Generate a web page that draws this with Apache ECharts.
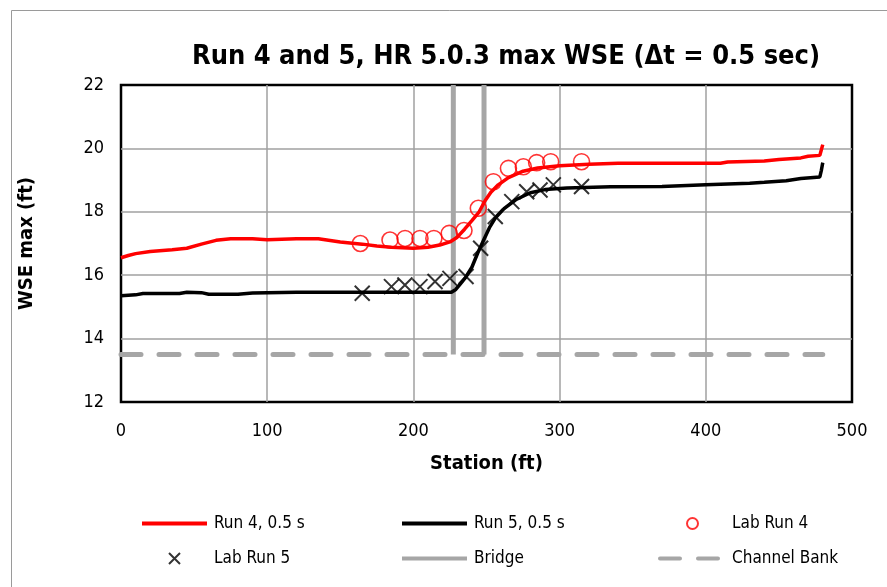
<!DOCTYPE html>
<html>
<head>
<meta charset="utf-8">
<script src="https://cdn.jsdelivr.net/npm/echarts@6/dist/echarts.min.js"></script>
<style>
  html, body { margin: 0; padding: 0; background: #fff; }
  #chart { width: 887px; height: 587px; }
</style>
</head>
<body>
<div id="chart"></div>
<script>
// Station (ft) and maximum water surface elevation (ft)
const run4Station = [0, 5, 10, 20, 35, 45, 55, 65, 75, 90, 100, 120, 135, 150, 165, 175, 185, 200, 210, 218, 225, 230, 235, 240, 245, 249, 253, 258, 265, 275, 285, 300, 320, 340, 380, 410, 415, 440, 450, 465, 470, 478, 479, 480];
const run4Wse = [16.55, 16.62, 16.68, 16.75, 16.80, 16.85, 16.98, 17.10, 17.15, 17.15, 17.12, 17.15, 17.15, 17.05, 16.98, 16.92, 16.88, 16.85, 16.88, 16.95, 17.05, 17.20, 17.45, 17.72, 18.00, 18.35, 18.62, 18.85, 19.08, 19.28, 19.38, 19.45, 19.50, 19.53, 19.53, 19.53, 19.57, 19.60, 19.65, 19.70, 19.75, 19.78, 19.95, 20.12];

const run5Station = [0, 10, 15, 40, 45, 55, 60, 80, 90, 120, 200, 226, 229, 232, 236, 240, 244, 248, 252, 256, 262, 270, 280, 290, 305, 335, 370, 400, 430, 440, 455, 465, 478, 479, 480];
const run5Wse = [15.35, 15.38, 15.42, 15.42, 15.46, 15.45, 15.40, 15.40, 15.44, 15.46, 15.46, 15.46, 15.55, 15.72, 15.95, 16.25, 16.70, 17.10, 17.50, 17.80, 18.10, 18.38, 18.60, 18.70, 18.75, 18.79, 18.80, 18.85, 18.90, 18.93, 18.98, 19.05, 19.10, 19.30, 19.55];

const labRun4Station = [163.7, 184, 194.3, 204.5, 214, 224.5, 234.6, 244.4, 254.7, 265, 275.2, 284.3, 293.9, 315];
const labRun4Wse = [17.00, 17.11, 17.16, 17.16, 17.16, 17.32, 17.41, 18.11, 18.95, 19.37, 19.42, 19.55, 19.58, 19.58];

const labRun5Station = [165, 185, 194.2, 204.5, 214.8, 225, 236, 246, 256, 267.3, 277.5, 286.6, 295.7, 315];
const labRun5Wse = [15.43, 15.64, 15.69, 15.64, 15.80, 15.90, 15.96, 16.85, 17.85, 18.32, 18.63, 18.69, 18.85, 18.80];

// Bridge faces and channel bank elevation
const bridgeStations = [227.3, 248.3];
const bridgeTop = 22;
const bridgeBottom = 13.5;
const bankStations = [0, 480];
const bankElevation = 13.5;

const xTicks = [0, 100, 200, 300, 400, 500];
const yTicks = [12, 14, 16, 18, 20, 22];

const pair = (xs, ys) => xs.map((x, i) => [x, ys[i]]);

const FONT = '"Liberation Sans Narrow", "DejaVu Sans Condensed", "Liberation Sans", sans-serif';
const GREY = '#a6a6a6';

const bridgeData = [];
bridgeStations.forEach((s, i) => {
  if (i > 0) bridgeData.push([null, null]);
  bridgeData.push([s, bridgeTop], [s, bridgeBottom]);
});

const chart = echarts.init(document.getElementById('chart'), null, { renderer: 'canvas' });

// legend entries for plain lines carry no marker
const lineEntry = name => ({ name, itemStyle: { opacity: 0 } });

const legendBase = {
  orient: 'vertical',
  itemWidth: 65,
  itemHeight: 11,
  itemGap: 18,
  lineStyle: { width: 4 },
  textStyle: { fontFamily: FONT, fontSize: 17, color: '#000', padding: [0, 0, 0, 2] },
  selectedMode: false
};

chart.setOption({
  animation: false,
  backgroundColor: '#fff',
  textStyle: { fontFamily: FONT },
  title: {
    text: 'Run 4 and 5, HR 5.0.3 max WSE (\u0394t = 0.5 sec)',
    left: 501,
    top: 38,
    textAlign: 'center',
    textStyle: { fontFamily: FONT, fontSize: 27, fontWeight: 'bold', color: '#000' }
  },
  graphic: [{
    type: 'rect',
    shape: { x: 11.5, y: 10.5, width: 900, height: 600 },
    style: { fill: 'none', stroke: '#9a9a9a', lineWidth: 1 },
    silent: true
  }],
  grid: {
    left: 121, right: 35, top: 85, bottom: 185,
    show: true, borderColor: '#000', borderWidth: 2.5, backgroundColor: 'transparent'
  },
  xAxis: {
    type: 'value', min: xTicks[0], max: xTicks[xTicks.length - 1], interval: 100,
    name: 'Station (ft)', nameLocation: 'middle', nameGap: 52,
    nameTextStyle: { fontFamily: FONT, fontSize: 20, fontWeight: 'bold', color: '#000' },
    axisLine: { show: false }, axisTick: { show: false },
    axisLabel: { fontFamily: FONT, fontSize: 18, color: '#000', margin: 20 },
    splitLine: { show: true, showMinLine: false, showMaxLine: false, lineStyle: { color: '#a0a0a0', width: 1.5 } }
  },
  yAxis: {
    type: 'value', min: yTicks[0], max: yTicks[yTicks.length - 1], interval: 2,
    name: 'WSE max (ft)', nameLocation: 'middle', nameGap: 84,
    nameTextStyle: { fontFamily: FONT, fontSize: 20, fontWeight: 'bold', color: '#000' },
    axisLine: { show: false }, axisTick: { show: false },
    axisLabel: { fontFamily: FONT, fontSize: 18, color: '#000', margin: 17 },
    splitLine: { show: true, showMinLine: false, showMaxLine: false, lineStyle: { color: '#a0a0a0', width: 1.5 } }
  },
  legend: [
    Object.assign({}, legendBase, { left: 135, top: 510, data: [lineEntry('Run 4, 0.5 s'), 'Lab Run 5'] }),
    Object.assign({}, legendBase, { left: 395, top: 510, data: [lineEntry('Run 5, 0.5 s'), lineEntry('Bridge')] }),
    Object.assign({}, legendBase, { left: 653, top: 510, data: ['Lab Run 4', lineEntry('Channel Bank')] })
  ],
  series: [
    {
      name: 'Channel Bank', type: 'line', data: pair(bankStations, [bankElevation, bankElevation]),
      symbol: 'none', lineStyle: { color: GREY, width: 5, type: [20, 18], cap: 'round' },
      itemStyle: { color: GREY }, z: 1
    },
    {
      name: 'Bridge', type: 'line', data: bridgeData, connectNulls: false,
      symbol: 'none', lineStyle: { color: GREY, width: 5 }, itemStyle: { color: GREY }, z: 1
    },
    {
      name: 'Run 4, 0.5 s', type: 'line', data: pair(run4Station, run4Wse),
      symbol: 'none', lineStyle: { color: '#ff0000', width: 3.5 }, itemStyle: { color: '#ff0000' }, z: 3
    },
    {
      name: 'Run 5, 0.5 s', type: 'line', data: pair(run5Station, run5Wse),
      symbol: 'none', lineStyle: { color: '#000', width: 3.5 }, itemStyle: { color: '#000' }, z: 3
    },
    {
      name: 'Lab Run 4', type: 'scatter', data: pair(labRun4Station, labRun4Wse),
      symbol: 'circle', symbolSize: 16,
      itemStyle: { color: 'rgba(255,255,255,0)', borderColor: '#ff0000', borderWidth: 1.6 }, z: 4
    },
    {
      name: 'Lab Run 5', type: 'scatter', data: pair(labRun5Station, labRun5Wse),
      symbol: 'path://M0,0L10,10M10,0L0,10', symbolSize: 15,
      itemStyle: { color: 'none', borderColor: '#000', borderWidth: 2 }, z: 4
    }
  ]
});
</script>
</body>
</html>
